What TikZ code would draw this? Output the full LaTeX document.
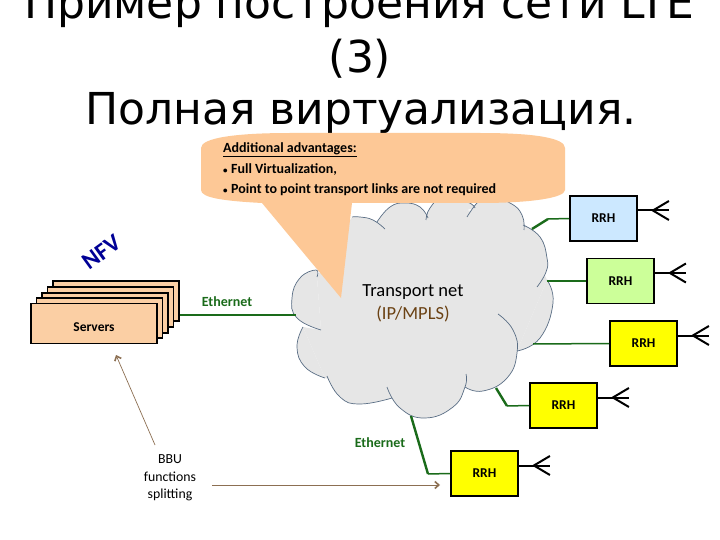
\documentclass[tikz,border=0pt]{standalone}
\usepackage{fontspec}
\setmainfont{Carlito}
\newfontfamily\titlefont{DejaVu Sans}
\usetikzlibrary{arrows.meta}
\definecolor{calloutc}{HTML}{FDC896}
\definecolor{serverc}{HTML}{FBCFA4}
\definecolor{ethc}{HTML}{1A6B1A}
\definecolor{cloudc}{HTML}{E6E6E6}
\definecolor{cloudl}{HTML}{5A6E85}
\definecolor{brownc}{HTML}{8C6F52}
\definecolor{mplsc}{HTML}{6B4214}
\definecolor{rblue}{HTML}{CCE8FF}
\definecolor{rgreen}{HTML}{CCFF99}
\definecolor{ryellow}{HTML}{FFFF00}
\newcommand{\fz}[1]{\fontsize{#1}{#1}\selectfont}
\newcommand{\bumpfill}[1]{\fill[cloudc] plot[smooth,tension=0.8] coordinates {#1};}
\newcommand{\bumpline}[1]{\draw[cloudl,line width=0.7pt] plot[smooth,tension=0.8] coordinates {#1};}
\newcommand{\allbumps}[1]{%
#1{(317,277) (316,270) (300,278) (292,298) (297,318) (321,330)}%
#1{(303,327) (297,347) (305,367) (325,378)}%
#1{(327,376) (340,397) (360,404) (392,398)}%
#1{(387,387) (400,408) (425,418) (453,407) (465,387) (466,374)}%
#1{(465,387) (483,391) (507,378) (517,353) (513,330) (498,314)}%
#1{(517,351) (540,338) (553,303) (547,280)}%
#1{(537,287) (546,272) (547,258) (540,237) (523,225)}%
#1{(524,230) (522,215) (510,203) (487,196) (477,203) (467,217)}%
#1{(426,220) (430,208) (443,198) (467,202) (475,208)}%
#1{(377,222) (390,207) (405,203) (420,207) (428,218)}%
#1{(385,229) (373,220) (360,217) (352,217)}%
}
\tikzset{
  titletext/.style={font=\titlefont\fz{44},anchor=base,inner sep=0pt,text=black},
  rrhbox/.style={draw=black,line width=1.8pt,minimum width=67pt,minimum height=45pt,inner sep=0pt,font=\bfseries\fz{13.5}},
  serverbox/.style={draw=black,line width=1.5pt,fill=serverc,minimum width=126pt,minimum height=40pt,inner sep=0pt},
  eth/.style={draw=ethc,line width=1.5pt},
  ethb/.style={draw=ethc,line width=2.4pt},
  ethlabel/.style={text=ethc,font=\bfseries\fz{14},inner sep=0pt},
  antenna/.style={draw=black,line width=2pt},
  brownarrow/.style={draw=brownc,line width=0.7pt,-{Straight Barb[length=4pt,width=7pt,line width=1.6pt]}},
  calloutline/.style={anchor=base west,inner sep=0pt,font=\bfseries\fz{14}}
}
\begin{document}
\begin{tikzpicture}[x=1pt,y=-1pt]
\useasboundingbox (0,0) rectangle (720,540);
\clip (0,0) rectangle (720,540);
\fill[white] (0,0) rectangle (720,540);
% title
\node[titletext] (t1) at (359,19) {Пример построения сети LTE};
\node[titletext] (t2) at (360,73) {(3)};
\node[titletext] (t3) at (361,125) {Полная виртуализация.};
% cloud
\fill[cloudc] (317,277) -- (321,330) -- (303,327) -- (325,378) -- (392,398) -- (465,387) -- (517,351) -- (547,280) -- (523,225) -- (467,210) -- (426,215) -- (377,222) -- (352,217) -- cycle;
\allbumps{\bumpfill}
\allbumps{\bumpline}
\node[inner sep=0pt,font=\fz{18.5}] (net) at (413,292) {Transport net};
\node[inner sep=0pt,font=\fz{18.5},text=mplsc] (mpls) at (413,314) {(IP/MPLS)};
% servers
\node[serverbox] (s5) at (116,301) {};
\node[serverbox] (s4) at (110.5,307) {};
\node[serverbox] (s3) at (105,313) {};
\node[serverbox] (s2) at (99.5,318) {};
\node[serverbox,font=\bfseries\fz{13.5},text height=15pt,text depth=0pt] (s1) at (94,323.5) {Servers};
\node[rotate=36,inner sep=0pt,text={rgb,255:red,0;green,0;blue,150},font=\bfseries\fz{24}] (nfv) at (102,252) {NFV};
% RRH boxes
\node[rrhbox,fill=rblue] (r1) at (603.5,218.5) {RRH};
\node[rrhbox,fill=rgreen] (r2) at (620.5,281) {RRH};
\node[rrhbox,fill=ryellow] (r3) at (643.5,343.5) {RRH};
\node[rrhbox,fill=ryellow] (r4) at (563.5,405.5) {RRH};
\node[rrhbox,fill=ryellow] (r5) at (484.5,473.5) {RRH};
% antennas
\foreach \n in {r1,r2,r3,r4,r5}{
  \coordinate (\n s) at ([yshift=8pt]\n.east);
  \coordinate (\n t) at ([xshift=15pt,yshift=8pt]\n.east);
  \coordinate (\n a) at ([xshift=31pt,yshift=17.5pt]\n.east);
  \coordinate (\n b) at ([xshift=31pt,yshift=8pt]\n.east);
  \coordinate (\n c) at ([xshift=31pt,yshift=-1.5pt]\n.east);
  \draw[antenna] (\n s) -- (\n b);
  \draw[antenna] (\n a) -- (\n t) -- (\n c);
}
% connectors
\coordinate (c0) at (296,315);
\coordinate (k1) at (548,219);
\coordinate (p1) at (532,229);
\coordinate (p2) at (547,281);
\coordinate (p3) at (533,344);
\coordinate (k4) at (507,406);
\coordinate (p4) at (496,388);
\coordinate (k5) at (428,474);
\coordinate (p5) at (411,416);
\draw[eth] (s5.east |- c0) -- (c0);
\draw[eth] (r1.west) -- (k1);
\draw[ethb] (k1) -- (p1);
\draw[eth] (r2.west) -- (p2);
\draw[eth] (r3.west) -- (p3);
\draw[eth] (r4.west) -- (k4);
\draw[ethb] (k4) -- (p4);
\draw[eth] (r5.west) -- (k5);
\draw[ethb] (k5) -- (p5);
\node[ethlabel] (e1) at (227,302) {Ethernet};
\node[ethlabel] (e2) at (380,443) {Ethernet};
% callout
\fill[calloutc] (201,148) .. controls (201,138) and (235,133) .. (290,133) -- (480,133)
  .. controls (535,133) and (565,138) .. (565,148) -- (565,190)
  .. controls (565,198) and (530,203) .. (480,203) -- (352,203) -- (341,298) -- (262,203)
  .. controls (225,201) and (201,198) .. (201,190) -- cycle;
\node[calloutline] (l1) at (223,152.5) {\underline{Additional advantages:}};
\node[calloutline] (l2) at (223,174) {{\fz{9}\textbullet}\hspace{3.5pt}Full Virtualization,};
\node[calloutline] (l3) at (223,194) {{\fz{9}\textbullet}\hspace{3.5pt}Point to point transport links are not required};
% BBU
\node[align=center,inner sep=0pt,font=\fz{13.8}] (bbu) at (170,478) {BBU\\[3.5pt]functions\\[3.5pt]splitting};
\coordinate (h1) at (155,445);
\coordinate (h2) at (116,355);
\coordinate (h3) at (212,485);
\coordinate (h4) at (440,485);
\draw[brownarrow] (h1) -- (h2);
\draw[brownarrow] (h3) -- (h4);
\end{tikzpicture}
\end{document}
